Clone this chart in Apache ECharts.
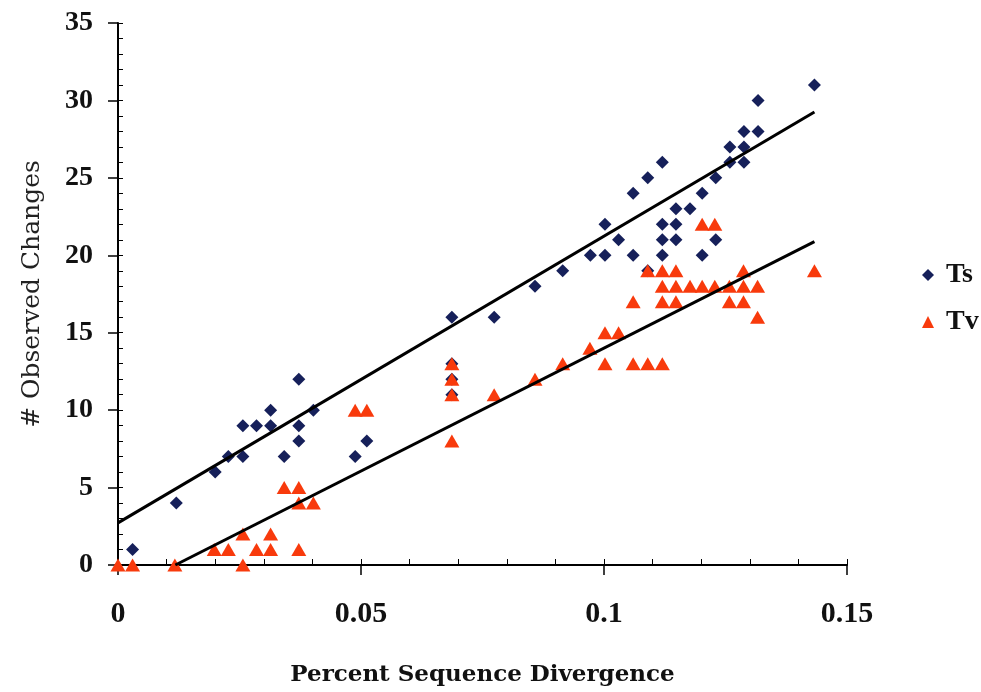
<!DOCTYPE html>
<html><head><meta charset="utf-8">
<script src="https://cdn.jsdelivr.net/npm/echarts@6/dist/echarts.min.js"></script>
<style>html,body{margin:0;padding:0;background:#fff}#c{width:981px;height:692px}</style>
</head><body><div id="c"></div>
<script>
const tsX = [0.003,0.012,0.020,0.0227,0.0257,0.0257,0.0285,0.0314,0.0314,0.0342,0.0372,0.0372,0.0372,0.0402,0.0488,0.0512,0.0687,0.0687,0.0687,0.0687,0.0774,0.0858,0.0915,0.0972,0.1002,0.1002,0.103,0.106,0.106,0.109,0.109,0.112,0.112,0.112,0.112,0.1148,0.1148,0.1148,0.1177,0.1202,0.1202,0.123,0.123,0.1259,0.1259,0.1288,0.1288,0.1288,0.1317,0.1317,0.1433];
const tsY = [1,4,6,7,7,9,9,9,10,7,8,9,12,10,7,8,11,12,13,16,16,18,19,20,20,22,21,20,24,25,19,26,22,21,20,23,22,21,23,24,20,25,21,27,26,28,27,26,28,30,31];
const tvX = [0,0.003,0.0117,0.0198,0.0227,0.0257,0.0257,0.0285,0.0314,0.0314,0.0342,0.0372,0.0372,0.0372,0.0402,0.0488,0.0512,0.0687,0.0687,0.0687,0.0687,0.0774,0.0858,0.0915,0.0971,0.1002,0.1002,0.103,0.106,0.106,0.109,0.109,0.112,0.112,0.112,0.112,0.1148,0.1148,0.1148,0.1177,0.1202,0.1202,0.1228,0.1228,0.1258,0.1258,0.1287,0.1287,0.1287,0.1316,0.1316,0.1433];
const tvY = [0,0,0,1,1,0,2,1,1,2,5,5,4,1,4,10,10,8,11,12,13,11,12,13,14,15,13,15,17,13,19,13,19,18,17,13,19,18,17,18,22,18,22,18,18,17,19,18,17,18,16,19];
const tsLineX = [0, 0.1433];
const tsLineY = [2.72, 29.25];
const tvLineX = [0.0118, 0.1433];
const tvLineY = [0, 20.88];
const xTicks = ['0','0.05','0.1','0.15'];
const seriesNames = ['Ts','Tv'];

const zip = (a,b) => a.map((v,i)=>[v,b[i]]);
const font = "'Liberation Serif', 'Times New Roman', serif";
const wide = "'DejaVu Serif', serif";
const chart = echarts.init(document.getElementById('c'));
chart.setOption({
  backgroundColor:'#fff',
  animation:false,
  grid:{left:118,right:134,top:23,bottom:127},
  legend:{
    orient:'vertical', left:917, top:256, itemGap:19, itemWidth:12, itemHeight:12,
    data:[{name:seriesNames[0],icon:'diamond'},{name:seriesNames[1],icon:'triangle'}],
    textStyle:{fontFamily:font,fontWeight:'bold',fontSize:28,color:'#111',padding:[0,0,0,7]}
  },
  xAxis:[{
    type:'value', min:0, max:0.15, interval:0.05,
    axisLine:{lineStyle:{color:'#000',width:2}},
    axisTick:{length:10,lineStyle:{color:'#000',width:1.5}},
    splitLine:{show:false},
    axisLabel:{margin:34,fontFamily:font,fontWeight:'bold',fontSize:30,color:'#111',
      formatter:(v)=>{const i=Math.round(v/0.05);return xTicks[i]!==undefined?xTicks[i]:'';}},
    name:'Percent Sequence Divergence', nameLocation:'middle', nameGap:99,
    nameTextStyle:{fontFamily:wide,fontWeight:'bold',fontSize:23,color:'#111'}
  },{
    type:'value', min:0, max:0.15, interval:0.01, position:'bottom',
    axisLine:{show:false}, axisTick:{inside:true,length:6,lineStyle:{color:'#000',width:1}},
    axisLabel:{show:false}, splitLine:{show:false}
  }],
  yAxis:[{
    type:'value', min:0, max:35, interval:5,
    axisLine:{show:true,lineStyle:{color:'#000',width:2}},
    axisTick:{show:true,length:10,lineStyle:{color:'#000',width:1.5}},
    splitLine:{show:false},
    axisLabel:{margin:25,fontFamily:font,fontWeight:'bold',fontSize:28,color:'#111'},
    name:'# Observed Changes', nameLocation:'middle', nameGap:73,
    nameTextStyle:{fontFamily:wide,fontSize:25,color:'#222'}
  },{
    type:'value', min:0, max:35, interval:1, position:'left',
    axisLine:{show:false}, axisTick:{show:true,inside:true,length:5,lineStyle:{color:'#000',width:1}},
    axisLabel:{show:false}, splitLine:{show:false}
  }],
  series:[
    {name:seriesNames[0],type:'scatter',symbol:'diamond',symbolSize:[13,13],
     itemStyle:{color:'#16205a',opacity:1},data:zip(tsX,tsY),z:2},
    {name:seriesNames[1],type:'scatter',symbol:'triangle',symbolSize:[15,13],
     itemStyle:{color:'#f83a0c',opacity:1},data:zip(tvX,tvY),z:3},
    {type:'line',data:zip(tsLineX,tsLineY),symbol:'none',lineStyle:{color:'#000',width:3},z:4,silent:true},
    {type:'line',data:zip(tvLineX,tvLineY),symbol:'none',lineStyle:{color:'#000',width:3},z:4,silent:true}
  ]
});
</script></body></html>
